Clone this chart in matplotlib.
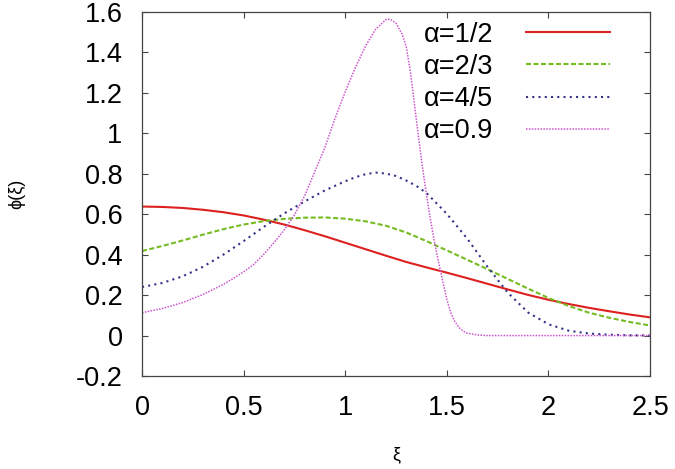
import numpy as np
import matplotlib
matplotlib.use("Agg")
import matplotlib.pyplot as plt

# ============================================================================
# DATA
# ============================================================================

labels = ["α=1/2", "α=2/3", "α=4/5", "α=0.9"]

xi_half = [0, 0.1, 0.2, 0.3, 0.4, 0.5, 0.6, 0.7, 0.8, 0.9, 1.0, 1.1, 1.2, 1.3,
           1.4, 1.5, 1.6, 1.7, 1.8, 1.9, 2.0, 2.1, 2.2, 2.3, 2.4, 2.5]
phi_half = [0.638, 0.636, 0.631, 0.622, 0.610, 0.594, 0.573, 0.549, 0.521,
            0.491, 0.459, 0.427, 0.395, 0.364, 0.337, 0.311, 0.284, 0.256,
            0.228, 0.201, 0.177, 0.156, 0.137, 0.120, 0.104, 0.090]

xi_two3 = [0, 0.1, 0.2, 0.3, 0.4, 0.5, 0.6, 0.7, 0.8, 0.9, 1.0, 1.1, 1.2, 1.3,
           1.4, 1.5, 1.6, 1.7, 1.8, 1.9, 2.0, 2.1, 2.2, 2.3, 2.4, 2.5]
phi_two3 = [0.418, 0.443, 0.470, 0.499, 0.526, 0.549, 0.566, 0.577, 0.583,
            0.584, 0.578, 0.565, 0.543, 0.510, 0.467, 0.421, 0.375, 0.328,
            0.280, 0.232, 0.186, 0.146, 0.113, 0.088, 0.067, 0.050]

xi_four5 = [0, 0.1, 0.2, 0.3, 0.4, 0.5, 0.6, 0.7, 0.8, 0.9, 1.0, 1.05, 1.1,
            1.15, 1.2, 1.25, 1.3, 1.35, 1.4, 1.5, 1.6, 1.7, 1.8, 1.9, 2.0,
            2.1, 2.2, 2.3, 2.4, 2.5]
phi_four5 = [0.240, 0.260, 0.293, 0.340, 0.400, 0.467, 0.538, 0.604, 0.663,
             0.718, 0.763, 0.783, 0.798, 0.806, 0.801, 0.789, 0.767, 0.740,
             0.705, 0.602, 0.480, 0.340, 0.212, 0.114, 0.056, 0.024, 0.010,
             0.004, 0.001, 0.0]

xi_nine = [0, 0.1, 0.2, 0.3, 0.4, 0.45, 0.5, 0.55, 0.6, 0.65, 0.7, 0.75, 0.8,
           0.85, 0.9, 0.95, 1.0, 1.05, 1.1, 1.15, 1.2, 1.22, 1.25, 1.28, 1.3,
           1.32, 1.34, 1.36, 1.38, 1.4, 1.42, 1.44, 1.46, 1.48, 1.5, 1.52,
           1.54, 1.56, 1.58, 1.6, 1.65, 1.7, 2.0, 2.5]
phi_nine = [0.113, 0.134, 0.163, 0.203, 0.253, 0.283, 0.315, 0.352, 0.403,
            0.460, 0.522, 0.597, 0.690, 0.810, 0.930, 1.075, 1.205, 1.325,
            1.432, 1.515, 1.562, 1.565, 1.545, 1.490, 1.430, 1.310, 1.150,
            0.985, 0.835, 0.695, 0.570, 0.458, 0.360, 0.268, 0.178, 0.112,
            0.068, 0.040, 0.022, 0.012, 0.003, 0.0, 0.0, 0.0]

# ============================================================================
# PLOT
# ============================================================================

plt.rcParams['font.family'] = ['Liberation Sans', 'DejaVu Sans']

fig = plt.figure(figsize=(6.75, 4.69), dpi=100)
ax = fig.add_axes([0.2104, 0.1983, 0.7526, 0.7761])

ax.plot(xi_half, phi_half, color='#dd2020', lw=1.5, ls='-', label=labels[0])
ax.plot(xi_two3, phi_two3, color='#77bb22', lw=1.5, ls=(0, (2.4, 1.2)),
        label=labels[1])
ax.plot(xi_four5, phi_four5, color='#333388', lw=1.5, ls=(0, (1, 2.0)),
        label=labels[2])
ax.plot(xi_nine, phi_nine, color='#cc55cc', lw=1.1, ls=(0, (1, 0.9)),
        label=labels[3])

ax.set_xlim(0, 2.5)
ax.set_ylim(-0.2, 1.6)
ax.set_xticks([0, 0.5, 1, 1.5, 2, 2.5])
ax.set_xticklabels(['0', '0.5', '1', '1.5', '2', '2.5'])
ax.set_yticks([-0.2, 0, 0.2, 0.4, 0.6, 0.8, 1.0, 1.2, 1.4, 1.6])
ax.set_yticklabels(['-0.2', '0', '0.2', '0.4', '0.6', '0.8', '1', '1.2',
                    '1.4', '1.6'])

ax.tick_params(direction='in', length=4, width=0.8, color='#444444',
               top=True, right=True, labelsize=19.5, pad=14)
for sp in ax.spines.values():
    sp.set_color('#444444')
    sp.set_linewidth(0.9)

ax.set_xlabel('ξ', fontsize=13, labelpad=18)
ax.set_ylabel('ϕ(ξ)', fontsize=13, labelpad=36)

ax.legend(loc='upper right', bbox_to_anchor=(0.958, 1.025), frameon=False,
          fontsize=19.5, markerfirst=False, handlelength=3.1,
          handletextpad=1.2, labelspacing=0.225, borderpad=0.2)

plt.savefig('out.png', dpi=100)
plt.close()
